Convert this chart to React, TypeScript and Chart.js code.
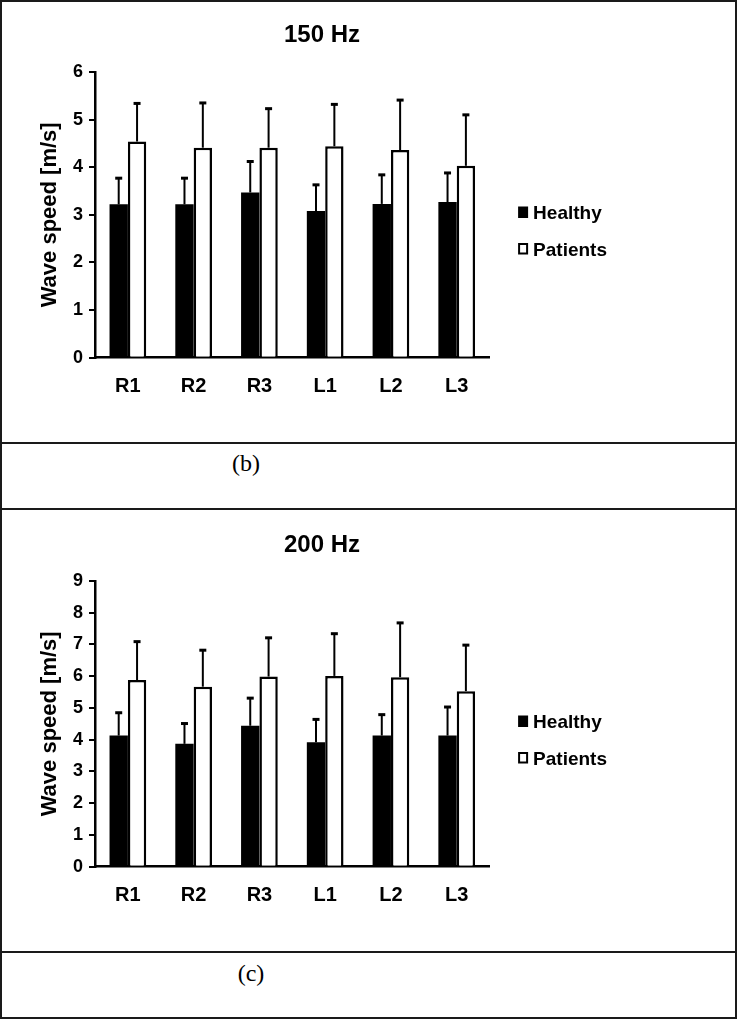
import React, { useEffect, useRef } from "react";
import { Chart, registerables } from "chart.js";

Chart.register(...registerables);

const categories = ["R1", "R2", "R3", "L1", "L2", "L3"];
const seriesLabels = ["Healthy", "Patients"];

const healthy150 = [3.22, 3.22, 3.47, 3.08, 3.23, 3.27];
const healthy150Sd = [0.55, 0.55, 0.65, 0.55, 0.61, 0.61];
const patients150 = [4.54, 4.41, 4.41, 4.44, 4.36, 4.03];
const patients150Sd = [0.8, 0.94, 0.82, 0.88, 1.05, 1.07];

const healthy200 = [4.13, 3.87, 4.44, 3.92, 4.13, 4.13];
const healthy200Sd = [0.72, 0.64, 0.87, 0.72, 0.66, 0.9];
const patients200 = [5.88, 5.67, 5.99, 6.01, 5.97, 5.53];
const patients200Sd = [1.21, 1.15, 1.22, 1.33, 1.71, 1.45];

const FONT = '"Liberation Sans", Arial, sans-serif';

const errorBarPlugin = {
  id: "errorBars",
  afterDatasetsDraw(chart: any) {
    const ctx = chart.ctx;
    const yScale = chart.scales.y;
    ctx.save();
    ctx.strokeStyle = "#000";
    chart.data.datasets.forEach((ds: any, i: number) => {
      const meta = chart.getDatasetMeta(i);
      meta.data.forEach((bar: any, j: number) => {
        const v = ds.data[j];
        const e = ds.errors[j];
        const yTop = yScale.getPixelForValue(v + e);
        const yBase = yScale.getPixelForValue(v);
        ctx.lineWidth = 2;
        ctx.beginPath();
        ctx.moveTo(bar.x, yBase);
        ctx.lineTo(bar.x, yTop);
        ctx.stroke();
        ctx.lineWidth = 3;
        ctx.beginPath();
        ctx.moveTo(bar.x - 3.5, yTop);
        ctx.lineTo(bar.x + 3.5, yTop);
        ctx.stroke();
      });
    });
    ctx.restore();
  },
};

const sideLegendPlugin = {
  id: "sideLegend",
  afterDraw(chart: any) {
    const ctx = chart.ctx;
    const area = chart.chartArea;
    const x0 = area.right + 28.5;
    const rows = [area.top + 134.5, area.top + 171];
    ctx.save();
    ctx.font = `bold 19px ${FONT}`;
    ctx.textBaseline = "alphabetic";
    ctx.textAlign = "left";
    chart.data.datasets.forEach((ds: any, i: number) => {
      const top = rows[i];
      if (i === 0) {
        ctx.fillStyle = "#000";
        ctx.fillRect(x0, top, 10, 11.5);
      } else {
        ctx.fillStyle = "#fff";
        ctx.fillRect(x0, top, 10, 11.5);
        ctx.strokeStyle = "#000";
        ctx.lineWidth = 2;
        ctx.strokeRect(x0 + 1, top + 1, 8, 9.5);
      }
      ctx.fillStyle = "#000";
      ctx.fillText(ds.label, x0 + 15, top + 12.5);
    });
    ctx.restore();
  },
};

const panelTitlePlugin = {
  id: "panelTitle",
  afterDraw(chart: any, _args: any, opts: any) {
    const ctx = chart.ctx;
    ctx.save();
    ctx.font = `bold 24px ${FONT}`;
    ctx.fillStyle = "#000";
    ctx.textAlign = "center";
    ctx.textBaseline = "alphabetic";
    ctx.fillText(opts.text, opts.x, opts.y);
    ctx.restore();
  },
};

type PanelProps = {
  title: string;
  max: number;
  healthy: number[];
  healthySd: number[];
  patients: number[];
  patientsSd: number[];
  padTop: number;
  padBottom: number;
  top: number;
};

function Panel(props: PanelProps) {
  const ref = useRef<HTMLCanvasElement>(null);
  useEffect(() => {
    if (!ref.current) return;
    const chart = new Chart(ref.current, {
      type: "bar",
      data: {
        labels: categories,
        datasets: [
          {
            label: seriesLabels[0],
            data: props.healthy,
            errors: props.healthySd,
            backgroundColor: "#000",
            borderColor: "#000",
            borderWidth: 0,
            categoryPercentage: 0.558,
            barPercentage: 1,
          } as any,
          {
            label: seriesLabels[1],
            data: props.patients,
            errors: props.patientsSd,
            backgroundColor: "#fff",
            borderColor: "#000",
            borderWidth: 2.5,
            borderSkipped: "bottom",
            categoryPercentage: 0.558,
            barPercentage: 1,
          } as any,
        ],
      },
      options: {
        responsive: false,
        animation: false,
        devicePixelRatio: 1,
        layout: {
          padding: { left: 0, right: 245.4, top: props.padTop, bottom: props.padBottom },
        },
        plugins: {
          legend: { display: false },
          tooltip: { enabled: false },
          title: { display: false },
          panelTitle: { text: props.title, x: 320, y: 40 },
        } as any,
        scales: {
          x: {
            grid: { display: false, drawTicks: false },
            border: { display: true, color: "#000", width: 2.5 },
            ticks: {
              color: "#000",
              padding: 17,
              font: { family: FONT, size: 20, weight: "bold" },
            },
            afterFit(scale: any) {
              scale.height = 40;
            },
          },
          y: {
            min: 0,
            max: props.max,
            ticks: {
              stepSize: 1,
              color: "#000",
              padding: 6,
              font: { family: FONT, size: 18, weight: "bold" },
            },
            grid: {
              drawOnChartArea: false,
              drawTicks: true,
              tickLength: 6,
              color: "#000",
              lineWidth: 2,
            },
            border: { display: true, color: "#000", width: 2.5 },
            title: {
              display: true,
              text: "Wave speed [m/s]",
              color: "#000",
              padding: { top: 35, bottom: 0 },
              font: { family: FONT, size: 22, weight: "bold" },
            },
            afterFit(scale: any) {
              scale.width = 93;
            },
          },
        },
      },
      plugins: [errorBarPlugin, sideLegendPlugin, panelTitlePlugin],
    });
    return () => chart.destroy();
  }, []);
  return (
    <canvas
      ref={ref}
      width={733}
      height={440}
      style={{ position: "absolute", left: 2, top: props.top, width: 733, height: 440 }}
    />
  );
}

const lineStyle = (top: number): React.CSSProperties => ({
  position: "absolute",
  left: 0,
  top,
  width: 737,
  height: 2,
  background: "#1a1a1a",
});

const captionStyle = (cx: number, cy: number): React.CSSProperties => ({
  position: "absolute",
  left: cx - 50,
  top: cy - 14,
  width: 100,
  height: 28,
  lineHeight: "28px",
  textAlign: "center",
  fontFamily: '"Liberation Serif", "Times New Roman", serif',
  fontSize: 24,
  color: "#000",
});

export default function App() {
  return (
    <div
      style={{
        position: "absolute",
        left: 0,
        top: 0,
        width: 737,
        height: 1019,
        boxSizing: "border-box",
        border: "2px solid #1a1a1a",
        background: "#fff",
      }}
    >
      <div style={{ position: "absolute", left: -2, top: -2, width: 737, height: 1019 }}>
        <Panel
          title="150 Hz"
          max={6}
          healthy={healthy150}
          healthySd={healthy150Sd}
          patients={patients150}
          patientsSd={patients150Sd}
          padTop={70}
          padBottom={44.3}
          top={2}
        />
        <div style={lineStyle(442)} />
        <div style={captionStyle(246, 463)}>(b)</div>
        <div style={lineStyle(508)} />
        <Panel
          title="200 Hz"
          max={9}
          healthy={healthy200}
          healthySd={healthy200Sd}
          patients={patients200}
          patientsSd={patients200Sd}
          padTop={69}
          padBottom={45.3}
          top={512}
        />
        <div style={lineStyle(951)} />
        <div style={captionStyle(251, 973)}>(c)</div>
      </div>
    </div>
  );
}
